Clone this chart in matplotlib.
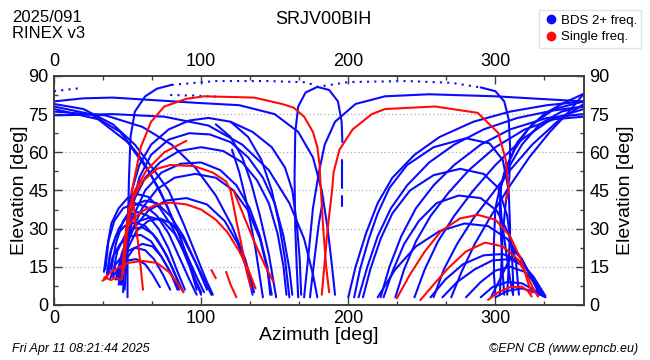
import matplotlib
matplotlib.use("Agg")
import matplotlib.pyplot as plt
from matplotlib.ticker import MultipleLocator
from matplotlib.lines import Line2D

# ---- data: (azimuth, elevation) points ----
# left cluster, low domes rising in the north-east
cluster_blue = [
    [(35, 14), (37, 25), (41, 33), (47, 38), (55, 40), (63, 38.5), (70, 35), (78, 28), (85, 19), (92, 10), (97, 4)],
    [(36, 11), (38, 20), (42, 27), (48, 31), (55, 32.5), (62, 31), (70, 26), (77, 19), (83, 11), (88, 5)],
    [(37, 12), (40, 19), (45, 24), (52, 27), (59, 27.5), (66, 25), (73, 19), (80, 12), (85, 6)],
    [(38, 10), (42, 16), (48, 20.5), (55, 22.5), (62, 21.5), (68, 18), (74, 12), (79, 6)],
    [(40, 11), (45, 15.5), (50, 17.5), (56, 18), (62, 16), (67, 12), (72, 7)],
    [(34, 13), (36, 22), (39, 32), (44, 38), (50, 42), (57, 43.5), (64, 42.5), (72, 38), (80, 31), (88, 21), (95, 11), (100, 5)],
    [(42, 10), (46, 20), (51, 28), (58, 33), (66, 34.5), (74, 33), (82, 28), (90, 20), (97, 11), (102, 5)],
    [(45, 12), (50, 22), (56, 29), (64, 33), (72, 34), (80, 32), (88, 26), (96, 17), (103, 9), (107, 4)],
    [(36, 12), (39, 22), (44, 30), (50, 35), (57, 36.5), (64, 35), (71, 30), (78, 22), (84, 13), (89, 6)],
    [(40, 12), (43, 21), (48, 27), (54, 30), (60, 30.5), (67, 28), (74, 22), (81, 14), (86, 7)],
    [(44, 10), (48, 17), (54, 22), (60, 24), (67, 23), (73, 19), (79, 13), (84, 6)],
    [(39, 14), (42, 24), (47, 33), (54, 39), (62, 41), (70, 40), (79, 35), (88, 27), (96, 17), (104, 6)],
]
# tracks rising steeply near azimuth 50 and arching over the sky
arch_blue = [
    [(47, 5), (48, 20), (50, 35), (53, 45), (58, 55), (66, 63), (78, 69), (92, 72.5), (105, 73.5), (120, 72), (135, 68), (148, 62), (157, 54), (162, 45), (165, 32), (167, 18), (168, 4)],
    [(45, 8), (47, 20), (50, 32), (55, 42), (62, 50), (72, 56), (85, 60.5), (100, 62), (115, 60.5), (128, 56), (138, 49), (146, 40), (152, 28), (156, 15), (158, 4)],
    [(44, 8), (47, 18), (52, 28), (60, 38), (70, 45.5), (82, 50), (96, 51.5), (110, 50), (122, 45), (132, 37), (140, 26), (145, 14), (148, 4)],
    [(43, 10), (47, 20), (54, 30), (64, 37), (76, 41), (90, 42), (104, 39.5), (116, 33), (125, 24), (131, 14), (135, 4)],
    [(48, 6), (50, 22), (53, 38), (58, 50), (66, 59), (78, 65), (92, 67.5), (106, 67), (120, 64), (132, 58), (142, 50), (150, 40), (156, 27), (160, 14), (162, 4)],
    [(46, 8), (49, 22), (54, 35), (62, 45), (73, 52), (86, 55.5), (100, 56), (113, 53), (124, 47), (133, 38), (140, 27), (145, 15), (147, 4)],
    [(50, 3), (50, 25), (51, 50), (52, 66), (55, 76), (62, 82), (70, 85), (80, 86.5)],
]
# tracks entering from the northern edge and setting in the east
north_blue = [
    [(0, 79), (20, 77), (40, 71), (55, 63), (68, 53), (78, 45), (88, 32), (97, 19), (104, 9), (108, 4)],
    [(0, 78), (25, 75), (45, 68), (60, 57), (72, 45), (82, 32), (90, 20), (96, 10), (100, 4)],
    [(0, 77), (30, 73), (50, 64), (65, 52), (76, 40), (85, 28), (92, 16), (97, 6)],
    [(0, 76), (35, 74.5), (60, 70), (80, 63), (96, 54), (110, 43), (121, 31), (130, 18), (136, 5)],
    [(0, 74.5), (40, 75), (75, 74), (105, 70.5), (128, 63), (146, 53), (160, 40), (170, 26), (176, 12), (179, 3)],
    [(0, 80), (20, 81.2), (40, 81.5), (65, 80.6), (95, 79.5), (126, 78.5), (150, 75), (166, 68), (176, 58), (182, 45), (186, 30), (189, 15), (191, 4)],
]
# central zenith arch and the near-vertical legs beside it
centre_blue = [
    [(166, 3), (165, 15), (164, 30), (163.5, 50), (164, 68), (166, 78), (171, 83.5), (179, 85.7), (187, 84.5), (193, 80), (195.5, 72), (196, 64)],
    [(196, 57), (196, 46)],
    [(195.5, 43), (195.5, 39)],
    [(290, 85.5), (300, 84), (306, 80), (309, 73), (310, 62), (309.5, 50), (307, 40), (305, 28), (304, 15), (303, 4)],
    [(170, 3), (173, 20), (176, 38), (180, 52), (184, 63), (191, 72), (205, 79), (225, 82), (255, 82.8), (300, 82), (330, 81), (360, 80)],
    [(174, 3), (177, 18), (180, 32), (183, 42)],
    [(142, 3), (137, 22), (131, 40), (126, 52), (121, 61)],
    [(151, 3), (146, 20), (140, 35), (134, 48), (128, 58), (120, 66), (110, 71)],
    [(160, 3), (157, 18), (153, 32), (148, 45), (141, 57), (132, 66), (120, 72)],
]
# tracks rising in the south and leaving through the northern edge
south_blue = [
    [(200, 3), (205, 15), (212, 28), (220, 40), (230, 50), (245, 59), (262, 66), (285, 72), (310, 76), (335, 78.5), (360, 80)],
    [(207, 3), (213, 15), (220, 27), (229, 38), (240, 47), (255, 56), (272, 63), (292, 69), (315, 73.5), (340, 76.5), (360, 78)],
    [(222, 3), (228, 15), (236, 27), (246, 38), (258, 47), (272, 55), (290, 63), (310, 69), (335, 73.5), (360, 75)],
    [(232, 3), (238, 14), (246, 25), (256, 35), (268, 44), (282, 53), (300, 62), (320, 69), (340, 73), (360, 74)],
    [(245, 3), (252, 14), (261, 25), (272, 35), (285, 45), (300, 55), (318, 65), (338, 73), (360, 77)],
    [(258, 3), (265, 14), (274, 24), (285, 34), (297, 43), (310, 53), (325, 63), (342, 72), (360, 79)],
    [(270, 3), (277, 13), (286, 24), (297, 35), (310, 47), (323, 58), (337, 68), (350, 76), (360, 83)],
    [(204, 3), (208, 14), (214, 26), (220, 36), (228, 46), (240, 55), (258, 62), (280, 65.5), (296, 63.5), (305, 57), (309, 45), (310, 30), (309, 15), (308, 4)],
    [(210, 3), (215, 14), (222, 26), (230, 36), (242, 45), (258, 51), (276, 53.5), (292, 51.5), (302, 46), (308, 35), (311, 22), (312, 10), (312, 4)],
    [(224, 3), (230, 13), (238, 24), (248, 33), (260, 40), (275, 43), (290, 42), (301, 37), (309, 28), (314, 17), (316, 4)],
]
# tracks from the north-west converging low in the west
west_blue = [
    [(360, 83), (345, 79), (333, 75), (322, 69), (313, 61), (306, 52), (303, 45), (304, 35), (307, 22), (310, 10), (312, 4)],
    [(360, 80), (340, 77), (325, 71), (315, 64), (308, 55), (304, 47), (303, 38), (304, 25), (305, 12), (306, 4)],
    [(360, 78), (345, 76), (330, 71), (318, 63), (309, 54), (303, 46), (300, 38), (299, 25), (299, 12), (300, 4)],
    [(220, 3), (232, 14), (246, 23), (262, 29), (279, 32), (295, 31), (308, 26), (318, 18), (325, 10), (330, 4)],
    [(256, 3), (266, 10), (278, 16), (292, 19.5), (305, 20), (317, 17), (326, 11), (333, 4)],
    [(264, 3), (274, 9), (286, 14), (298, 17.5), (310, 18), (320, 15), (328, 9), (334, 3.5)],
    [(280, 3), (290, 9), (300, 13.5), (310, 15), (320, 13), (328, 8), (333, 3.5)],
    [(290, 3), (298, 7), (308, 9), (318, 8.5), (326, 6), (333, 3.5)],
    [(300, 3), (308, 5.5), (318, 6.5), (327, 5), (334, 3)],
    [(297, 3), (303, 10), (308, 16), (313, 21), (318, 18), (325, 10), (331, 4)],
]
# dotted parts (sparse samples near the zenith)
dotted_blue = [
    [(0, 84), (10, 84.7), (19, 85.3)],
    [(80, 86.5), (110, 88), (145, 88), (172, 87.5), (179, 85.7), (200, 87.6), (240, 88), (270, 87.3), (290, 85.5)],
    [(79, 82.5), (95, 82.3), (112, 81.8)],
]
# single frequency tracks
single_red = [
    [(60.5, 6), (58, 20), (55, 35), (53, 45), (59, 62), (66, 72), (75, 78), (90, 81), (102, 82), (136, 81.5), (155, 79), (163, 77.5), (170, 74), (176, 68), (179, 62), (180.5, 55), (181, 49), (183, 30), (185, 15), (187, 5)],
    [(182, 4), (186, 30), (189, 45), (190, 52), (194, 61), (203, 69), (216, 75), (225, 77), (259, 78), (288, 75.5), (302, 67.6), (307, 57), (309, 45), (307, 41)],
    [(46, 10), (48, 25), (51, 38), (55, 45), (63, 53), (75, 60), (90, 64.5)],
    [(47, 12), (50, 30), (54, 42), (60, 48.5), (70, 53.5), (79, 55), (95, 54.6), (108, 52), (117, 48.5), (120, 45), (124, 33), (128, 22), (131, 13), (134, 6.6)],
    [(48.6, 29.5), (55, 34.5), (62, 37.5), (70, 39.5), (79, 40.2), (90, 39.5), (100, 37.5), (110, 33.5), (118, 28.5), (126, 21), (132, 14), (137, 6.5)],
    [(34, 10.5), (40, 13.5), (50, 16.5), (60, 17.3), (70, 16.5), (78, 13), (84, 8.5), (88, 5)],
    [(122, 45), (129, 35), (136, 25), (143, 16), (149, 9.2)],
    [(233, 2.6), (242, 12), (252, 21), (263, 29), (276, 34), (288, 35.4), (300, 33.5), (310, 27), (318, 17), (322, 9), (324.6, 4.6)],
    [(249, 1.9), (258, 8), (268, 14.5), (280, 21), (293, 24.5), (305, 23), (315, 18), (322, 11), (327, 5), (329, 3.3)],
    [(295, 2), (302, 5), (310, 7), (318, 7.2), (322, 5.5), (324.6, 3.3)],
    [(107, 13.7), (110, 10.5)],
    [(117, 13), (120, 8), (124, 3)],
    [(33, 9.5), (36, 10.5), (39, 9.8), (42, 10.8), (45, 10)],
]

legend_labels = ["BDS 2+ freq.", "Single freq."]
blue = "#0a0aff"
red = "#ff0a0a"

plt.rcParams['font.family'] = ['Liberation Sans', 'DejaVu Sans']
fig = plt.figure(figsize=(6.5, 3.6), dpi=100)
ax = fig.add_axes([0.083, 0.153, 0.815, 0.636])


def draw(tracks, colour, style="-"):
    for t in tracks:
        az = [p[0] for p in t]
        el = [p[1] for p in t]
        ax.plot(az, el, color=colour, lw=1.5, ls=style, solid_capstyle="round",
                solid_joinstyle="round")


for group in [cluster_blue, arch_blue, north_blue, centre_blue, south_blue, west_blue]:
    draw(group, blue)
draw(dotted_blue, blue, (0, (1, 2.5)))
draw(single_red, red)

ax.set_xlim(0, 360)
ax.set_ylim(0, 90)
ax.xaxis.set_major_locator(MultipleLocator(100))
ax.xaxis.set_minor_locator(MultipleLocator(100 / 3))
ax.yaxis.set_major_locator(MultipleLocator(15))
ax.yaxis.set_minor_locator(MultipleLocator(7.5))
ax.tick_params(which="both", direction="in", top=True, right=True,
               labeltop=True, labelright=True, colors="#404040", labelcolor="black",
               labelsize=13, pad=4)
ax.tick_params(which="major", length=6, width=1)
ax.tick_params(which="minor", length=3, width=1)
for s in ax.spines.values():
    s.set_color("#404040")
    s.set_linewidth(1.4)
for v in [15, 30, 45, 60, 75]:
    ax.axhline(v, color="#b0b0b0", lw=0.9, ls=(0, (1, 2)), zorder=0)

ax.set_xlabel("Azimuth [deg]", fontsize=14, labelpad=0)
ax.set_ylabel("Elevation [deg]", fontsize=14, labelpad=0)
fig.text(626 / 650, 0.153 + 0.318, "Elevation [deg]", fontsize=14, rotation=90,
         ha="center", va="center")

fig.text(12 / 650, 1 - 17 / 360, "2025/091", fontsize=12, va="center")
fig.text(12 / 650, 1 - 33 / 360, "RINEX v3", fontsize=12, va="center")
fig.text(0.497, 1 - 20 / 360, "SRJV00BIH", fontsize=13, ha="center", va="center")
fig.text(12 / 650, 1 - 349 / 360, "Fri Apr 11 08:21:44 2025", fontsize=9, style="italic", va="center")
fig.text(638 / 650, 1 - 349 / 360, "\u00a9EPN CB (www.epncb.eu)", fontsize=9, style="italic",
         ha="right", va="center")

handles = [Line2D([], [], ls="none", marker="o", ms=6, color=blue),
           Line2D([], [], ls="none", marker="o", ms=6, color=red)]
fig.legend(handles, legend_labels, loc="upper right", bbox_to_anchor=(0.997, 0.99),
           fontsize=9.5, handletextpad=0.1, borderpad=0.35, labelspacing=0.3,
           frameon=True, fancybox=False, edgecolor="#dddddd", handlelength=1.2)

fig.savefig("out.png", dpi=100)
